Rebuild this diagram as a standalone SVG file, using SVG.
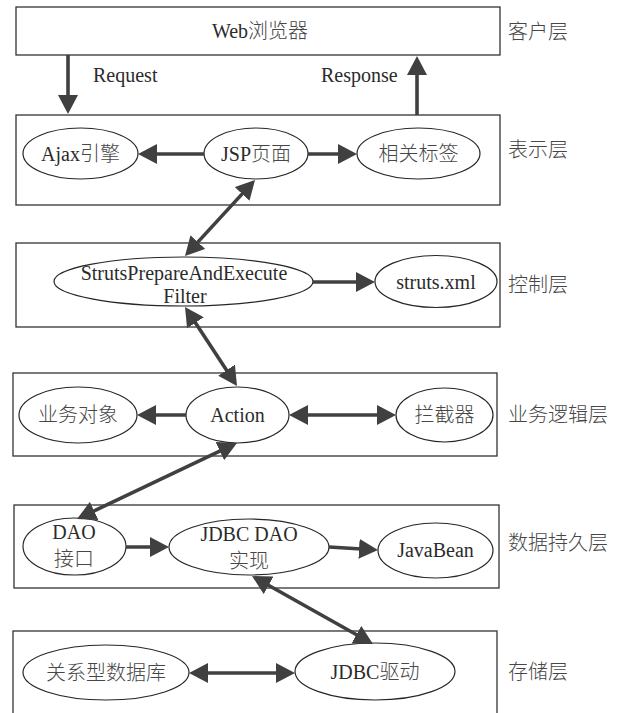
<svg xmlns="http://www.w3.org/2000/svg" width="617" height="713" viewBox="0 0 617 713">
  <style>
    .layer { fill: #ffffff; stroke: #333333; stroke-width: 1.3; }
    .node { fill: #ffffff; stroke: #262626; stroke-width: 1.2; }
    .txt { font-family: "Liberation Serif", "Noto Sans CJK SC", serif; font-size: 20px; fill: #2b2b2b; text-anchor: middle; }
    .cjk { font-family: "Noto Sans CJK SC", sans-serif; font-weight: 300; fill: #474747; }
    .lbl { font-family: "Noto Sans CJK SC", "Liberation Sans", sans-serif; font-size: 20px; font-weight: 300; fill: #474747; }
    .cap { font-family: "Liberation Serif", serif; font-size: 20px; fill: #2b2b2b; }
    .link { stroke: #404040; stroke-width: 3.6; fill: none; }
    .one { marker-end: url(#head); }
    .two { marker-start: url(#head); marker-end: url(#head); }
  </style>
  <defs>
    <marker id="head" markerUnits="userSpaceOnUse" markerWidth="20" markerHeight="20" refX="15" refY="10" orient="auto-start-reverse">
      <path d="M0,0 L19,10 L0,20 z" fill="#404040"/>
    </marker>
  </defs>

  <rect width="617" height="713" fill="#ffffff"/>

  <!-- client tier -->
  <g id="client-layer">
    <rect class="layer" x="16" y="7" width="484" height="48"/>
    <text class="lbl" x="508" y="39">客户层</text>
  </g>
  <g id="browser">
    <text class="txt" x="260" y="38">Web<tspan class="cjk">浏览器</tspan></text>
  </g>

  <!-- presentation tier -->
  <g id="presentation-layer">
    <rect class="layer" x="16" y="115" width="484" height="90"/>
    <text class="lbl" x="508" y="157">表示层</text>
  </g>
  <g id="ajax">
    <ellipse class="node" cx="80.5" cy="153.5" rx="57.5" ry="25.5"/>
    <text class="txt" x="80.5" y="161">Ajax<tspan class="cjk">引擎</tspan></text>
  </g>
  <g id="jsp">
    <ellipse class="node" cx="256" cy="153.5" rx="52" ry="25.5"/>
    <text class="txt" x="256" y="161">JSP<tspan class="cjk">页面</tspan></text>
  </g>
  <g id="tags">
    <ellipse class="node" cx="418.5" cy="153.5" rx="61.5" ry="25.5"/>
    <text class="txt cjk" x="418.5" y="161">相关标签</text>
  </g>

  <!-- control tier -->
  <g id="control-layer">
    <rect class="layer" x="16" y="243" width="484" height="84"/>
    <text class="lbl" x="508" y="292">控制层</text>
  </g>
  <g id="filter">
    <ellipse class="node" cx="183.5" cy="281.5" rx="129.5" ry="24.5"/>
    <text class="txt" x="184" y="280">StrutsPrepareAndExecute</text>
    <text class="txt" x="185" y="303">Filter</text>
  </g>
  <g id="struts-xml">
    <ellipse class="node" cx="436" cy="281.5" rx="61" ry="26"/>
    <text class="txt" x="436" y="289">struts.xml</text>
  </g>

  <!-- business logic tier -->
  <g id="business-layer">
    <rect class="layer" x="13" y="373" width="484" height="83"/>
    <text class="lbl" x="508" y="422">业务逻辑层</text>
  </g>
  <g id="business-object">
    <ellipse class="node" cx="78" cy="415" rx="59" ry="28"/>
    <text class="txt cjk" x="78" y="422">业务对象</text>
  </g>
  <g id="action">
    <ellipse class="node" cx="237.5" cy="415" rx="51.5" ry="28"/>
    <text class="txt" x="237.5" y="422">Action</text>
  </g>
  <g id="interceptor">
    <ellipse class="node" cx="444.5" cy="415" rx="48.5" ry="27"/>
    <text class="txt cjk" x="444.5" y="422">拦截器</text>
  </g>

  <!-- persistence tier -->
  <g id="persistence-layer">
    <rect class="layer" x="14" y="505" width="485" height="83"/>
    <text class="lbl" x="508" y="550">数据持久层</text>
  </g>
  <g id="dao-interface">
    <ellipse class="node" cx="74.5" cy="546.5" rx="51.5" ry="28.5"/>
    <text class="txt" x="74" y="539">DAO</text>
    <text class="txt cjk" x="74" y="566">接口</text>
  </g>
  <g id="jdbc-dao">
    <ellipse class="node" cx="249" cy="547" rx="80" ry="28"/>
    <text class="txt" x="249" y="541">JDBC DAO</text>
    <text class="txt cjk" x="249" y="568">实现</text>
  </g>
  <g id="javabean">
    <ellipse class="node" cx="435.5" cy="550.5" rx="57.5" ry="27.5"/>
    <text class="txt" x="435.5" y="557">JavaBean</text>
  </g>

  <!-- storage tier -->
  <g id="storage-layer">
    <rect class="layer" x="13" y="631" width="484" height="100"/>
    <text class="lbl" x="508" y="679">存储层</text>
  </g>
  <g id="database">
    <ellipse class="node" cx="106" cy="672.5" rx="83" ry="27.5"/>
    <text class="txt cjk" x="106" y="680">关系型数据库</text>
  </g>
  <g id="jdbc-driver">
    <ellipse class="node" cx="375" cy="671.5" rx="80" ry="28.5"/>
    <text class="txt" x="375" y="679">JDBC<tspan class="cjk">驱动</tspan></text>
  </g>

  <!-- connectors -->
  <g id="connectors">
    <line class="link one" x1="68" y1="55" x2="68" y2="110"/>
    <text class="cap" x="93" y="82">Request</text>
    <line class="link one" x1="417" y1="115" x2="417" y2="60"/>
    <text class="cap" x="321" y="82">Response</text>

    <line class="link one" x1="204" y1="154" x2="142" y2="154"/>
    <line class="link one" x1="308" y1="154" x2="353" y2="154"/>
    <line class="link two" x1="252.3" y1="182.9" x2="187.7" y2="253.1"/>

    <line class="link one" x1="313" y1="282" x2="371" y2="282"/>
    <line class="link two" x1="187.2" y1="310.3" x2="234.8" y2="382.7"/>

    <line class="link one" x1="186" y1="415" x2="141" y2="415"/>
    <line class="link two" x1="293" y1="415" x2="392" y2="415"/>
    <line class="link two" x1="233.4" y1="444.7" x2="80.6" y2="517.3"/>

    <line class="link one" x1="126" y1="547" x2="165" y2="547"/>
    <line class="link one" x1="329" y1="547" x2="374" y2="549.8"/>
    <line class="link two" x1="255.5" y1="578" x2="369.5" y2="642"/>

    <line class="link two" x1="193" y1="673" x2="291" y2="673"/>
  </g>
</svg>
